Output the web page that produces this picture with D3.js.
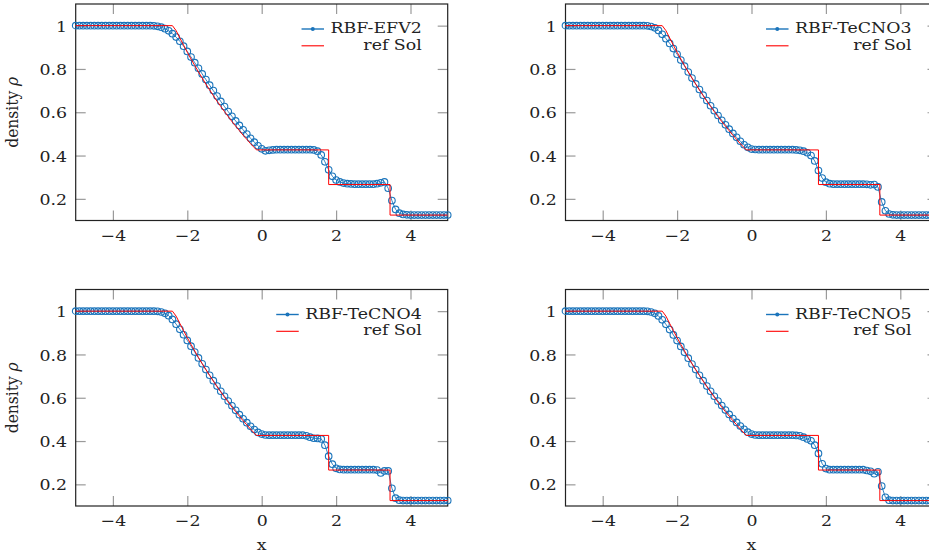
<!DOCTYPE html>
<html>
<head>
<meta charset="utf-8">
<script src="https://cdn.jsdelivr.net/npm/d3@7"></script>
<style>
  body { margin: 0; background: #fff; overflow: hidden; }
  svg text { font-family: "DejaVu Serif", serif; font-size: 15.5px; fill: #222; }
</style>
</head>
<body>
<div id="chart"></div>
<script>
// cell centres of the numerical solution
const xs = [-5.0,-4.9,-4.8,-4.7,-4.6,-4.5,-4.4,-4.3,-4.2,-4.1,-4.0,-3.9,-3.8,-3.7,-3.6,-3.5,-3.4,-3.3,-3.2,-3.1,
  -3.0,-2.9,-2.8,-2.7,-2.6,-2.5,-2.4,-2.3,-2.2,-2.1,-2.0,-1.9,-1.8,-1.7,-1.6,-1.5,-1.4,-1.3,-1.2,-1.1,
  -1.0,-0.9,-0.8,-0.7,-0.6,-0.5,-0.4,-0.3,-0.2,-0.1,0.0,0.1,0.2,0.3,0.4,0.5,0.6,0.7,0.8,0.9,
  1.0,1.1,1.2,1.3,1.4,1.5,1.6,1.7,1.8,1.9,2.0,2.1,2.2,2.3,2.4,2.5,2.6,2.7,2.8,2.9,
  3.0,3.1,3.2,3.3,3.4,3.5,3.6,3.7,3.8,3.9,4.0,4.1,4.2,4.3,4.4,4.5,4.6,4.7,4.8,4.9,5.0];

const rhoEFV2 = [1,1,1,1,1,1,1,1,1,1,1,1,1,1,1,1,1,1,1,1,
  1.0,0.999,0.997,0.993,0.986,0.976,0.963,0.947,0.928,0.905,0.881,0.855,0.829,0.803,0.777,0.751,0.725,0.700,0.675,0.650,
  0.626,0.603,0.581,0.560,0.539,0.519,0.499,0.480,0.462,0.445,0.431,0.422,0.424,0.426,0.427,0.427,0.427,0.427,0.427,0.427,
  0.427,0.427,0.427,0.427,0.426,0.420,0.403,0.371,0.334,0.304,0.287,0.278,0.273,0.270,0.269,0.268,0.268,0.268,0.268,0.268,
  0.268,0.270,0.274,0.278,0.249,0.192,0.151,0.134,0.128,0.126,0.125,0.125,0.125,0.125,0.125,0.125,0.125,0.125,0.125,0.125,0.125];

const rhoTeCNO3 = [1,1,1,1,1,1,1,1,1,1,1,1,1,1,1,1,1,1,1,1,
  1.0,1.0,0.999,0.996,0.990,0.978,0.960,0.940,0.918,0.894,0.868,0.841,0.813,0.786,0.758,0.731,0.705,0.679,0.654,0.630,
  0.607,0.585,0.563,0.542,0.522,0.502,0.484,0.466,0.450,0.438,0.430,0.428,0.427,0.427,0.427,0.427,0.427,0.427,0.427,0.427,
  0.427,0.427,0.426,0.424,0.420,0.413,0.400,0.375,0.331,0.296,0.277,0.270,0.268,0.268,0.268,0.268,0.268,0.268,0.268,0.268,
  0.268,0.267,0.265,0.266,0.255,0.186,0.145,0.130,0.126,0.125,0.125,0.125,0.125,0.125,0.125,0.125,0.125,0.125,0.125,0.125,0.125];

const rhoTeCNO4 = [1,1,1,1,1,1,1,1,1,1,1,1,1,1,1,1,1,1,1,1,
  1.0,1.0,0.999,0.996,0.990,0.979,0.962,0.940,0.916,0.891,0.865,0.838,0.811,0.784,0.757,0.730,0.704,0.679,0.654,0.630,
  0.607,0.585,0.563,0.542,0.522,0.503,0.485,0.468,0.453,0.440,0.432,0.428,0.427,0.427,0.427,0.427,0.427,0.427,0.427,0.427,
  0.427,0.427,0.424,0.418,0.413,0.412,0.410,0.381,0.330,0.293,0.274,0.269,0.268,0.268,0.268,0.268,0.268,0.268,0.268,0.268,
  0.268,0.266,0.253,0.262,0.262,0.182,0.136,0.127,0.125,0.125,0.125,0.125,0.125,0.125,0.125,0.125,0.125,0.125,0.125,0.125,0.125];

const rhoTeCNO5 = [1,1,1,1,1,1,1,1,1,1,1,1,1,1,1,1,1,1,1,1,
  1.0,1.0,0.999,0.996,0.990,0.978,0.960,0.939,0.915,0.890,0.864,0.837,0.810,0.783,0.756,0.730,0.704,0.679,0.654,0.630,
  0.607,0.585,0.564,0.543,0.523,0.504,0.486,0.469,0.454,0.441,0.432,0.428,0.427,0.427,0.427,0.427,0.427,0.427,0.427,0.427,
  0.427,0.427,0.426,0.424,0.418,0.410,0.401,0.381,0.343,0.295,0.273,0.268,0.268,0.268,0.268,0.268,0.268,0.268,0.268,0.268,
  0.268,0.264,0.260,0.249,0.258,0.192,0.140,0.127,0.125,0.125,0.125,0.125,0.125,0.125,0.125,0.125,0.125,0.125,0.125,0.125,0.125];

// reference solution
const refX = [-5,-2.4,-2.3,-2.2,-2.1,-2.0,-1.9,-1.8,-1.7,-1.6,-1.5,-1.4,-1.3,-1.2,-1.1,-1.0,-0.9,-0.8,-0.7,-0.6,
  -0.5,-0.4,-0.3,-0.2,-0.14,1.8,1.8,3.45,3.45,5];
const refY = [1,1,0.977,0.943,0.910,0.877,0.846,0.816,0.786,0.758,0.730,0.703,0.677,0.651,0.627,0.603,0.580,0.557,0.536,0.515,
  0.494,0.475,0.455,0.437,0.426,0.426,0.266,0.266,0.125,0.125];

const seriesNames = ["RBF-EFV2", "RBF-TeCNO3", "RBF-TeCNO4", "RBF-TeCNO5"];
const seriesData = [rhoEFV2, rhoTeCNO3, rhoTeCNO4, rhoTeCNO5];
const xTicks = [-4, -2, 0, 2, 4];
const yTicks = [0.2, 0.4, 0.6, 0.8, 1];
const xDomain = [-5, 5];
const yDomain = [0.1, 1.1];

const W = 929, H = 558;
const pw = 372, ph = 216.5;
const lefts = [75.7, 565.5];
const tops = [4, 289.5];
const blue = "#1a74bb", red = "#ff0000";
const sx = 1.12; // horizontal stretch of the text

const svg = d3.select("#chart").append("svg")
  .attr("width", W).attr("height", H);

seriesNames.forEach((name, k) => {
  const col = k % 2, row = Math.floor(k / 2);
  const g = svg.append("g").attr("transform", `translate(${lefts[col]},${tops[row]})`);
  const x = d3.scaleLinear().domain(xDomain).range([0, pw]);
  const y = d3.scaleLinear().domain(yDomain).range([ph, 0]);

  // ticks, inside and mirrored
  const bottom = g.append("g").attr("transform", `translate(0,${ph})`)
    .call(d3.axisBottom(x).tickValues(xTicks).tickSize(-10));
  bottom.selectAll("text").attr("y", 20.5).attr("dy", 0)
    .attr("transform", `scale(${sx},1)`);
  g.append("g").call(d3.axisTop(x).tickValues(xTicks).tickSize(-10).tickFormat(""));
  const left = g.append("g")
    .call(d3.axisLeft(y).tickValues(yTicks).tickSize(-10)
      .tickFormat(d => d === 1 ? "1" : d3.format(".1f")(d)));
  left.selectAll("text").attr("x", -8.6 / sx).attr("dy", "0.36em")
    .attr("transform", `scale(${sx},1)`);
  g.append("g").attr("transform", `translate(${pw},0)`)
    .call(d3.axisRight(y).tickValues(yTicks).tickSize(-10).tickFormat(""));
  g.selectAll(".domain").remove();
  g.selectAll(".tick line").attr("stroke", "#9a9a9a").attr("stroke-width", 1.2);
  g.selectAll(".tick text").attr("font-family", null).attr("font-size", null).attr("fill", "#222");

  // frame
  g.append("rect").attr("width", pw).attr("height", ph)
    .attr("fill", "none").attr("stroke", "#222").attr("stroke-width", 1.2);

  // numerical solution
  const pts = xs.map((v, i) => [v, seriesData[k][i]]);
  const line = d3.line().x(d => x(d[0])).y(d => y(d[1]));
  g.append("path").datum(pts).attr("d", line)
    .attr("fill", "none").attr("stroke", blue).attr("stroke-width", 0.9);
  g.append("g").selectAll("circle").data(pts).join("circle")
    .attr("cx", d => x(d[0])).attr("cy", d => y(d[1])).attr("r", 3.3)
    .attr("fill", "none").attr("stroke", blue).attr("stroke-width", 1.1);

  // reference
  const refPts = refX.map((v, i) => [v, refY[i]]);
  g.append("path").datum(refPts).attr("d", line)
    .attr("fill", "none").attr("stroke", red).attr("stroke-width", 1);

  // legend
  const xr = pw - 26;
  const rows = [{ label: name, c: blue, mark: true }, { label: "ref Sol", c: red, mark: false }];
  const texts = rows.map((r, i) => g.append("text")
    .attr("transform", `translate(${xr},${25 + i * 16.8 + 4}) scale(${sx},1)`)
    .attr("text-anchor", "end").text(r.label));
  const maxW = d3.max(texts, t => t.node().getComputedTextLength()) * sx;
  const x1 = xr - maxW - 6.5, x0 = x1 - 22.5;
  rows.forEach((r, i) => {
    const yy = 25 + i * 16.8;
    g.append("line").attr("x1", x0).attr("x2", x1).attr("y1", yy).attr("y2", yy)
      .attr("stroke", r.c).attr("stroke-width", r.mark ? 1.4 : 1.1);
    if (r.mark) g.append("circle").attr("cx", (x0 + x1) / 2).attr("cy", yy).attr("r", 2)
      .attr("fill", r.c);
  });

  // axis labels
  if (col === 0) {
    const t = g.append("text")
      .attr("transform", `translate(${18.5 - lefts[col]},${ph / 2}) rotate(-90) scale(1,${sx})`)
      .attr("text-anchor", "middle");
    t.append("tspan").text("density ");
    t.append("tspan").attr("font-style", "italic").text("ρ");
  }
  if (row === 1) {
    g.append("text")
      .attr("transform", `translate(${pw / 2},${550 - tops[row]}) scale(${sx},1)`)
      .attr("text-anchor", "middle").text("x");
  }
});
</script>
</body>
</html>
